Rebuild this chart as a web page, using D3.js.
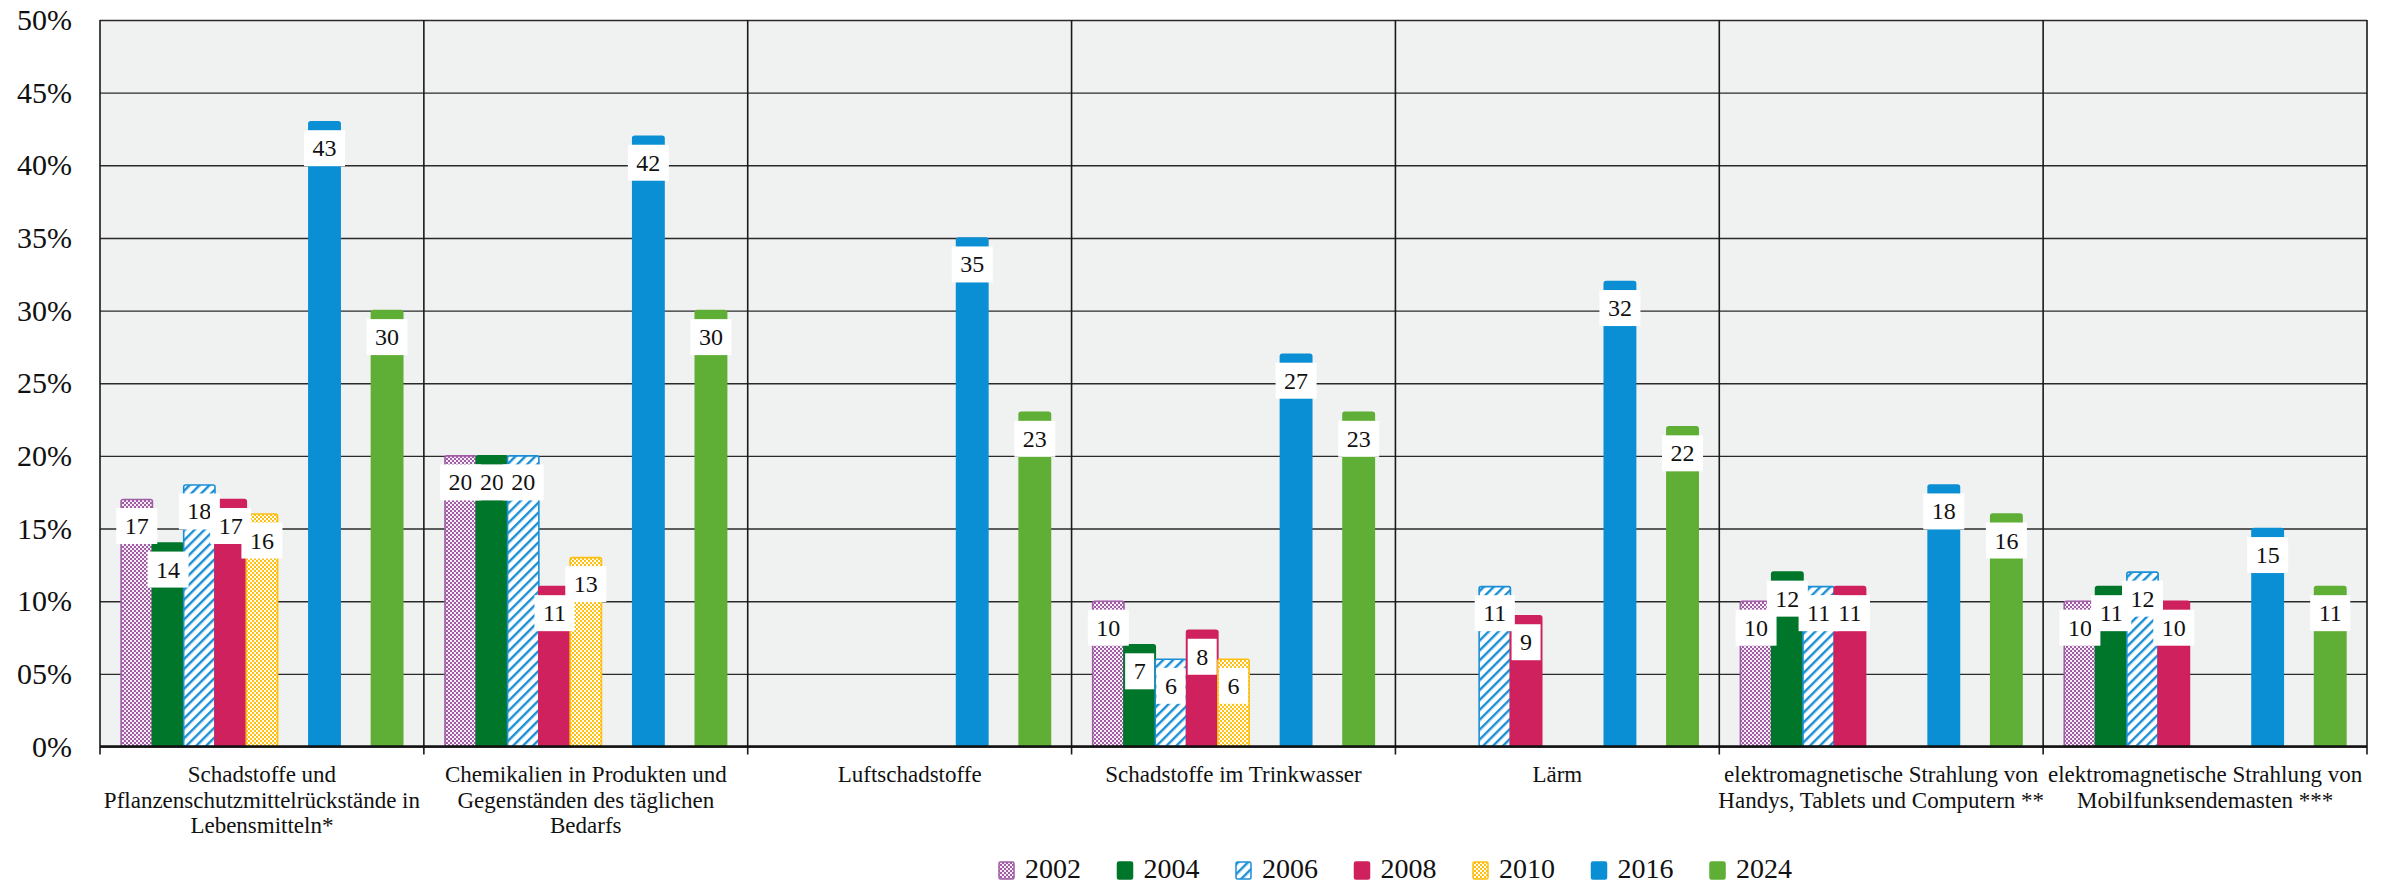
<!DOCTYPE html>
<html><head><meta charset="utf-8">
<script src="https://cdn.jsdelivr.net/npm/d3@7"></script>
<style>
html,body{margin:0;padding:0;background:#fff;}
svg{display:block;}
text{font-family:"Liberation Serif","Times New Roman",serif;fill:#111;}
</style></head>
<body>
<svg id="chart" width="2391" height="885"></svg>
<script>
// ---------- data ----------
const categories = [
  "Schadstoffe und Pflanzenschutzmittelrückstände in Lebensmitteln*",
  "Chemikalien in Produkten und Gegenständen des täglichen Bedarfs",
  "Luftschadstoffe",
  "Schadstoffe im Trinkwasser",
  "Lärm",
  "elektromagnetische Strahlung von Handys, Tablets und Computern **",
  "elektromagnetische Strahlung von Mobilfunksendemasten ***"
];
const categoryLines = [
  ["Schadstoffe und", "Pflanzenschutzmittelrückstände in", "Lebensmitteln*"],
  ["Chemikalien in Produkten und", "Gegenständen des täglichen", "Bedarfs"],
  ["Luftschadstoffe"],
  ["Schadstoffe im Trinkwasser"],
  ["Lärm"],
  ["elektromagnetische Strahlung von", "Handys, Tablets und Computern **"],
  ["elektromagnetische Strahlung von", "Mobilfunksendemasten ***"]
];
const years = ["2002", "2004", "2006", "2008", "2010", "2016", "2024"];
// slot order of the grouped bars (two slots stay empty)
const slotKeys = ["2002", "2004", "2006", "2008", "2010", "leer-a", "2016", "leer-b", "2024"];
const v2002 = [17, 20, null, 10, null, 10, 10];
const v2004 = [14, 20, null, 7, null, 12, 11];
const v2006 = [18, 20, null, 6, 11, 11, 12];
const v2008 = [17, 11, null, 8, 9, 11, 10];
const v2010 = [16, 13, null, 6, null, null, null];
const v2016 = [43, 42, 35, 27, 32, 18, 15];
const v2024 = [30, 30, 23, 23, 22, 16, 11];
const seriesValues = [v2002, v2004, v2006, v2008, v2010, v2016, v2024];
const yTickValues = [0, 5, 10, 15, 20, 25, 30, 35, 40, 45, 50];
const yTickLabels = ["0%", "05%", "10%", "15%", "20%", "25%", "30%", "35%", "40%", "45%", "50%"];

// ---------- styles ----------
const colors = {
  "2002": "#a05ca5", "2004": "#00762b", "2006": "#1a8fd6", "2008": "#cf215e",
  "2010": "#fdbf12", "2016": "#0b8fd4", "2024": "#5fae35"
};
const fills = {
  "2002": "url(#pat2002)", "2004": colors["2004"], "2006": "url(#pat2006)", "2008": colors["2008"],
  "2010": "url(#pat2010)", "2016": colors["2016"], "2024": colors["2024"]
};
const FONT = "'Liberation Serif','Times New Roman',serif";

const svg = d3.select("#chart");
const L = 100, R = 2367, T = 20, B = 746.5;

// patterns
const defs = svg.append("defs");
function checker(id, col, light) {
  const p = defs.append("pattern").attr("id", id).attr("patternUnits", "userSpaceOnUse")
    .attr("width", 4).attr("height", 4);
  p.append("rect").attr("width", 4).attr("height", 4).attr("fill", light);
  p.append("rect").attr("width", 2).attr("height", 2).attr("fill", col);
  p.append("rect").attr("x", 2).attr("y", 2).attr("width", 2).attr("height", 2).attr("fill", col);
}
checker("pat2002", colors["2002"], "#f4eef4");
checker("pat2010", colors["2010"], "#fffdf5");
{
  const p = defs.append("pattern").attr("id", "pat2006").attr("patternUnits", "userSpaceOnUse")
    .attr("width", 7).attr("height", 7).attr("patternTransform", "rotate(45)");
  p.append("rect").attr("width", 7).attr("height", 7).attr("fill", "#ffffff");
  p.append("rect").attr("width", 2.4).attr("height", 7).attr("fill", colors["2006"]);
}

// scales
const x0 = d3.scaleBand().domain(categories).range([L, R]).padding(0);
const x1 = d3.scaleBand().domain(slotKeys).range([0, x0.bandwidth()]).paddingInner(0).paddingOuter(0.675);
const y = d3.scaleLinear().domain([0, 50]).range([B, T]);

// plot background
svg.append("rect").attr("x", L).attr("y", T).attr("width", R - L).attr("height", B - T).attr("fill", "#f0f1f1");

// horizontal grid + y labels
const yAxis = d3.axisLeft(y).tickValues(yTickValues)
  .tickFormat((d, i) => yTickLabels[i]).tickSize(-(R - L)).tickPadding(28);
const gy = svg.append("g").attr("transform", `translate(${L},0)`).call(yAxis)
  .attr("font-family", FONT).attr("font-size", 30);
gy.select(".domain").remove();
gy.selectAll(".tick line").attr("stroke", "#2a2a2a").attr("stroke-width", 1.4);
gy.selectAll(".tick text").style("font-family", FONT).style("font-size", "30px").attr("fill", "#111");

// vertical separators and bottom ticks
const bounds = categories.map(c => x0(c)).concat([R]);
svg.append("g").selectAll("line").data(bounds).join("line")
  .attr("x1", d => d).attr("x2", d => d).attr("y1", T).attr("y2", B + 8)
  .attr("stroke", "#1a1a1a").attr("stroke-width", 1.6);

// bars
const series = years.map((yr, i) => ({ year: yr, values: seriesValues[i] }));
const gBars = svg.append("g");
series.forEach(s => {
  gBars.append("g").selectAll("rect")
    .data(s.values.map((v, i) => ({ cat: categories[i], v })).filter(d => d.v != null))
    .join("rect")
    .attr("x", d => x0(d.cat) + x1(s.year))
    .attr("y", d => y(d.v))
    .attr("width", x1.bandwidth())
    .attr("height", d => B - y(d.v))
    .attr("rx", 2)
    .attr("fill", fills[s.year])
    .attr("stroke", colors[s.year])
    .attr("stroke-width", 1.6);
});

// bottom axis line
svg.append("line").attr("x1", L).attr("x2", R).attr("y1", B).attr("y2", B)
  .attr("stroke", "#111").attr("stroke-width", 2.6);

// data labels
const gLab = svg.append("g");
series.forEach(s => {
  s.values.forEach((v, i) => {
    if (v == null) return;
    const cx = x0(categories[i]) + x1(s.year) + x1.bandwidth() / 2;
    const top = y(v) + 8.5;
    const g = gLab.append("g");
    const r = g.append("rect").attr("fill", "#fff");
    const t = g.append("text").attr("x", cx).attr("y", top + 18).attr("text-anchor", "middle")
      .attr("dominant-baseline", "central").style("font-family", FONT).style("font-size", "24px").text(v);
    const w = t.node().getComputedTextLength() + 17;
    r.attr("x", cx - w / 2).attr("y", top).attr("width", w).attr("height", 36);
  });
});

// category labels
const gCat = svg.append("g");
categories.forEach((c, i) => {
  const cx = x0(c) + x0.bandwidth() / 2;
  gCat.append("text").attr("text-anchor", "middle").style("font-family", FONT).style("font-size", "23px")
    .selectAll("tspan").data(categoryLines[i]).join("tspan")
    .attr("x", cx).attr("y", (d, j) => 782 + j * 25.5).text(d => d);
});

// legend
const legX = 999, legStep = 118.5;
const gLeg = svg.append("g");
years.forEach((yr, i) => {
  const x = legX + i * legStep;
  gLeg.append("rect").attr("x", x).attr("y", 862).attr("width", 15).attr("height", 17).attr("rx", 1.5)
    .attr("fill", fills[yr]).attr("stroke", colors[yr]).attr("stroke-width", 1.5);
  gLeg.append("text").attr("x", x + 26).attr("y", 878).style("font-family", FONT).style("font-size", "28px").text(yr);
});
</script>
</body></html>
